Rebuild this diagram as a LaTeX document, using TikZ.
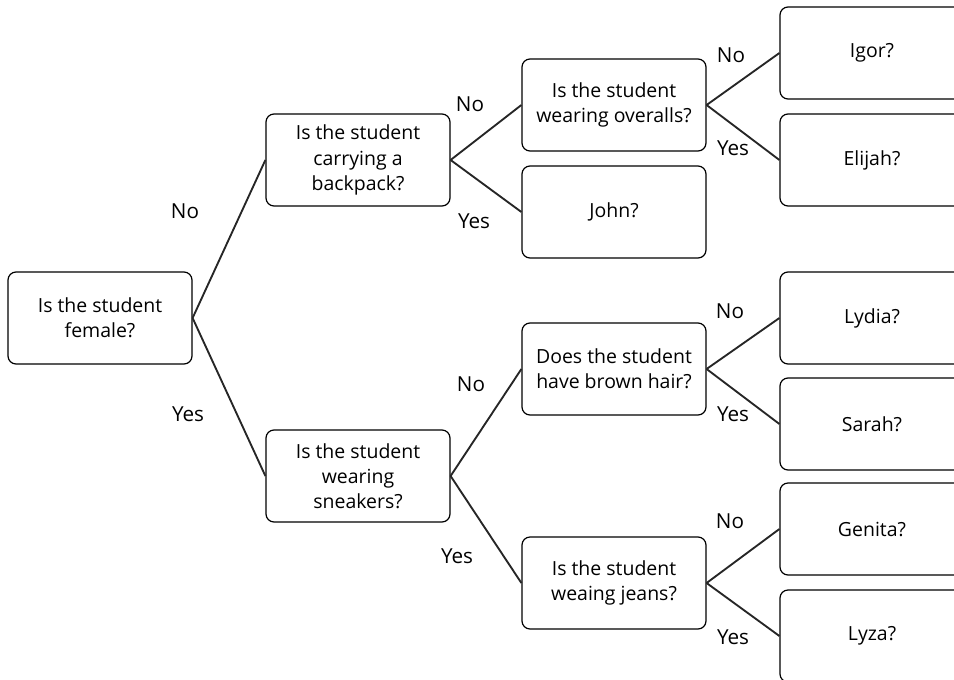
\documentclass[tikz,border=0pt]{standalone}
\usepackage{fontspec}
\setmainfont{Open Sans}
\usetikzlibrary{positioning}
\tikzset{
    question/.style={
        rectangle,
        rounded corners=6pt,
        draw=black,
        line width=0.9pt,
        align=center,
        minimum width=138pt,
        minimum height=69pt,
        font=\fontsize{14.6}{18.8}\selectfont
    },
    guess/.style={
        question
    },
    branch/.style={
        line width=1.4pt,
        draw=black!85
    },
    answer/.style={
        font=\fontsize{15.5}{18}\selectfont
    }
}

\begin{document}
\begin{tikzpicture}[x=0.75pt, y=-0.75pt]
        \clip (0,0) rectangle (954,679);

        % Root question
        \node (female) [question] at (100,318) {Is the student\\female?};

        % Second level
        \node (backpack) [question] at (358,160) {Is the student\\carrying a\\backpack?};
        \node (sneakers) [question] at (358,476) {Is the student\\wearing\\sneakers?};

        % Third level
        \node (overalls) [question] at (614,105) {Is the student\\wearing overalls?};
        \node (john) [guess] at (614,212) {John?};
        \node (brown) [question] at (614,369) {Does the student\\have brown hair?};
        \node (jeans) [question] at (614,583) {Is the student\\weaing jeans?};

        % Leaves
        \node (igor) [guess] at (872,53) {Igor?};
        \node (elijah) [guess] at (872,160) {Elijah?};
        \node (lydia) [guess] at (872,318) {Lydia?};
        \node (sarah) [guess] at (872,424) {Sarah?};
        \node (genita) [guess] at (872,529) {Genita?};
        \node (lyza) [guess] at (872,636) {Lyza?};

        % Branches
        \draw [branch] (female.east) -- (backpack.west);
        \draw [branch] (female.east) -- (sneakers.west);
        \draw [branch] (backpack.east) -- (overalls.west);
        \draw [branch] (backpack.east) -- (john.west);
        \draw [branch] (overalls.east) -- (igor.west);
        \draw [branch] (overalls.east) -- (elijah.west);
        \draw [branch] (sneakers.east) -- (brown.west);
        \draw [branch] (sneakers.east) -- (jeans.west);
        \draw [branch] (brown.east) -- (lydia.west);
        \draw [branch] (brown.east) -- (sarah.west);
        \draw [branch] (jeans.east) -- (genita.west);
        \draw [branch] (jeans.east) -- (lyza.west);

        % Answers
        \node (no1) [answer] at (185,211) {No};
        \node (yes1) [answer] at (188,414) {Yes};
        \node (no2) [answer] at (470,104) {No};
        \node (yes2) [answer] at (474,221) {Yes};
        \node (no3) [answer] at (731,55) {No};
        \node (yes3) [answer] at (733,148) {Yes};
        \node (no4) [answer] at (471,384) {No};
        \node (yes4) [answer] at (457,556) {Yes};
        \node (no5) [answer] at (730,311) {No};
        \node (yes5) [answer] at (733,414) {Yes};
        \node (no6) [answer] at (730,521) {No};
        \node (yes6) [answer] at (733,637) {Yes};

    \end{tikzpicture}
\end{document}
